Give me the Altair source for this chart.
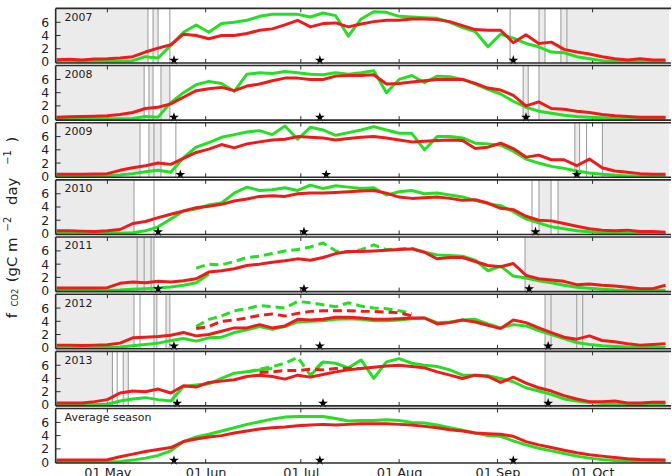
import altair as alt
import pandas as pd

N = None
# day of year of each sample
DOY = [105,109,113,117,121,125,129,133,137,141,145,149,153,157,161,165,169,173,177,181,
       185,189,193,197,201,205,209,213,217,221,225,229,233,237,241,245,249,253,257,261,
       265,269,273,277,281,285,289,293,297]

PANELS = ["2007", "2008", "2009", "2010", "2011", "2012", "2013", "Average season"]

green_2007 = [0.1,0.1,0.05,0.1,0.1,0.1,0.2,0.8,0.6,2.5, 4.5,5.6,4.5,5.8,6.0,6.3,6.9,7.2,7.2,7.2,
              6.8,7.4,7.0,3.9,6.5,7.6,7.5,6.9,6.8,6.7, 6.6,6.0,5.2,4.6,2.3,4.2,3.6,2.8,2.3,1.5,
              1.4,0.8,0.5,0.2,0.1,0.05,0.05,0.05,0.05]
red_2007 = [0.35,0.4,0.3,0.45,0.5,0.6,0.8,1.5,2.1,2.6, 4.2,4.0,3.5,4.0,4.0,4.3,4.8,5.0,5.6,6.3,
            5.3,5.8,5.9,5.3,5.75,6.1,6.3,6.3,6.5,6.5, 6.4,6.1,5.5,4.9,4.8,4.8,2.9,4.1,2.8,3.0,
            1.9,1.5,1.2,0.8,0.5,0.3,0.5,0.3,0.3]
green_2008 = [0.05,0.05,0.05,0.05,0.05,0.05,0.1,0.4,0.3,2.5, 4.0,5.2,5.7,5.4,4.2,6.8,7.0,6.9,7.2,7.0,
              6.8,6.7,7.0,6.8,7.0,7.3,4.0,6.0,6.6,5.5, 6.5,6.4,6.0,5.3,4.5,3.8,2.7,1.8,1.2,0.9,
              0.6,0.4,0.3,0.2,0.1,0.05,0.05,0.05,0.05]
red_2008 = [0.3,0.35,0.4,0.45,0.5,0.7,1.0,1.6,1.8,2.3, 3.3,4.3,4.6,4.8,4.3,5.0,5.3,5.8,6.2,6.2,
            6.0,6.0,6.5,6.6,6.6,6.7,5.3,5.4,5.6,5.8, 6.0,6.0,6.0,5.4,4.7,4.4,3.6,2.0,2.6,1.6,
            1.5,1.2,1.0,0.7,0.5,0.4,0.3,0.3,0.3]
green_2009 = [0.05,0.05,0.05,0.05,0.1,0.2,0.4,0.7,0.9,0.6, 2.8,4.4,5.1,5.9,6.3,6.7,6.9,6.3,7.6,5.6,
              7.4,7.0,6.2,6.6,7.0,7.5,7.0,6.5,6.5,4.0, 6.0,6.0,5.8,5.0,4.9,4.7,3.8,2.6,2.0,1.5,
              1.2,0.8,0.5,0.3,0.15,0.05,0.05,0.05,0.05]
red_2009 = [0.3,0.3,0.3,0.35,0.4,0.9,1.3,1.6,2.0,1.8, 2.7,3.6,4.1,4.8,4.3,4.9,5.2,5.5,5.6,6.0,
            5.9,5.8,5.5,5.7,5.9,6.0,5.8,5.5,5.2,5.3, 5.4,5.5,5.4,4.2,4.4,5.0,4.2,2.9,3.2,2.5,
            2.5,1.6,2.6,1.3,0.8,0.6,0.4,0.3,0.3]
green_2010 = [0.05,0.05,0.05,0.05,0.05,0.05,0.1,0.4,1.0,2.2, 3.4,3.7,4.3,4.6,6.1,7.0,6.5,6.6,6.9,6.5,
              7.3,6.8,7.2,7.0,6.8,6.9,5.8,6.3,6.5,6.0, 6.1,5.8,5.5,5.0,4.5,4.2,3.3,2.2,1.6,1.0,
              0.7,0.4,0.25,0.1,0.05,0.05,0.05,0.05,0.05]
red_2010 = [0.4,0.4,0.35,0.3,0.4,0.6,1.5,1.8,2.4,2.9, 3.4,3.9,4.1,4.4,4.9,5.2,5.6,5.7,5.6,6.0,
            6.1,6.1,6.2,6.3,6.4,6.5,6.1,5.5,5.3,5.4, 5.5,5.3,5.0,5.1,4.6,3.8,3.6,2.6,2.0,1.9,
            1.5,1.1,0.7,0.5,0.4,0.5,0.3,0.3,0.2]
green_2011 = [0.05,0.05,0.05,0.05,0.05,0.1,0.2,0.3,0.4,0.55, 0.8,1.2,2.5,N,N,N,N,N,N,N,
              N,N,N,N,N,N,N,N,6.4,5.8, 5.4,5.3,5.2,4.6,3.0,3.7,2.2,1.9,1.5,1.2,
              0.8,0.5,0.35,0.2,0.1,0.05,0.05,0.05,0.05]
green_dash_2011 = [N,N,N,N,N,N,N,N,N,N, N,3.4,4.0,3.9,4.4,5.0,5.2,5.6,6.0,6.2,
                   6.6,7.2,6.0,5.8,6.2,6.9,6.2,6.3,6.4,N, N,N,N,N,N,N,N,N,N,N,
                   N,N,N,N,N,N,N,N,N]
red_2011 = [0.4,0.4,0.4,0.4,0.45,1.1,1.3,1.2,1.4,1.3, 1.5,1.8,2.8,3.0,3.3,3.8,4.0,4.3,4.5,4.8,
            4.6,5.0,5.6,5.9,5.9,6.0,6.1,6.2,6.3,5.8, 4.8,5.0,5.0,4.4,3.8,3.6,4.1,2.3,1.8,1.6,
            1.4,0.9,1.0,0.8,0.7,0.5,0.3,0.3,0.8]
green_2012 = [0.05,0.05,0.05,0.05,0.05,0.1,0.3,0.5,0.7,1.1, 1.4,1.0,1.5,1.6,2.3,2.7,3.2,2.8,3.2,3.9,
              4.0,4.1,4.3,4.4,4.3,4.1,4.1,4.2,4.4,4.5, 3.8,3.9,4.2,4.3,3.6,3.0,3.5,3.3,2.6,2.0,
              1.4,0.8,0.5,0.3,0.2,0.1,0.05,0.05,0.05]
green_dash_2012 = [N,N,N,N,N,N,N,N,N,N, N,3.2,4.3,4.8,5.6,5.9,6.4,6.2,6.0,7.0,
                   6.8,6.5,6.2,6.8,6.3,6.0,5.9,5.6,5.2,N, N,N,N,N,N,N,N,N,N,N,
                   N,N,N,N,N,N,N,N,N]
red_dash_2012 = [N,N,N,N,N,N,N,N,N,N, N,2.9,3.2,4.0,4.2,4.5,4.9,5.1,4.8,5.2,
                 5.5,5.6,5.6,5.6,5.5,5.5,5.4,5.3,4.8,N, N,N,N,N,N,N,N,N,N,N,
                 N,N,N,N,N,N,N,N,N]
red_2012 = [0.4,0.4,0.35,0.4,0.45,0.7,1.5,1.6,1.7,1.9, 2.3,1.8,2.0,2.5,3.0,3.0,3.5,3.0,3.3,4.3,
            4.2,4.3,4.6,4.6,4.5,4.3,4.3,4.4,4.5,4.5, 3.6,3.8,4.2,3.9,3.4,2.9,4.2,3.8,3.0,2.3,
            1.6,1.3,1.8,1.1,0.9,0.6,0.4,0.5,0.6]
green_2013 = [0.05,0.05,0.05,0.05,0.1,0.6,0.9,1.1,0.8,0.6, 2.8,3.0,3.2,4.0,4.8,5.0,5.3,5.5,N,N,
              4.4,6.5,6.3,5.6,6.8,4.0,6.5,7.0,6.3,6.0, 5.8,5.3,4.5,4.5,4.4,4.0,3.5,2.6,2.1,1.6,
              0.9,0.6,0.35,0.2,0.1,0.05,0.05,0.05,0.05]
green_dash_2013 = [N,N,N,N,N,N,N,N,N,N, N,N,N,N,N,5.0,5.4,5.8,6.3,7.2,
                   4.5,6.6,N,N,N,N,N,N,N,N, N,N,N,N,N,N,N,N,N,N,
                   N,N,N,N,N,N,N,N,N]
red_dash_2013 = [N,N,N,N,N,N,N,N,N,N, N,N,N,N,N,N,4.9,5.0,5.2,5.2,
                 5.4,5.3,5.5,5.5,5.5,N,N,N,N,N, N,N,N,N,N,N,N,N,N,N,
                 N,N,N,N,N,N,N,N,N]
red_2013 = [0.3,0.3,0.3,0.5,0.8,1.8,2.1,2.0,2.4,1.8, 2.9,2.7,3.4,3.6,3.8,4.3,4.5,4.3,3.9,4.5,
            4.2,4.6,5.0,5.3,5.5,5.7,5.9,6.0,5.8,5.6, 5.0,4.5,4.0,4.5,4.3,3.4,4.2,3.3,2.6,2.1,
            1.4,0.9,0.5,0.5,0.6,0.3,0.3,0.4,0.4]
green_avg = [0.05,0.05,0.05,0.05,0.05,0.1,0.3,0.6,1.0,1.7, 3.1,3.8,4.2,4.7,5.2,5.7,6.1,6.5,6.8,6.9,
             6.9,6.9,6.6,6.2,6.3,6.3,6.4,6.3,6.0,5.9, 5.6,5.2,4.8,4.4,4.0,3.9,3.2,2.6,2.1,1.7,
             1.3,0.9,0.6,0.4,0.25,0.15,0.05,0.05,0.05]
red_avg = [0.3,0.3,0.3,0.3,0.35,0.8,1.2,1.6,1.9,2.2, 3.1,3.5,3.8,4.0,4.4,4.7,5.0,5.2,5.3,5.5,
           5.6,5.7,5.6,5.7,5.8,5.8,5.8,5.7,5.6,5.4, 5.2,4.9,4.7,4.4,4.3,4.2,3.9,3.1,2.6,2.2,
           1.8,1.4,1.1,0.9,0.7,0.5,0.4,0.35,0.3]

GREEN = {"2007": green_2007, "2008": green_2008, "2009": green_2009, "2010": green_2010,
         "2011": green_2011, "2012": green_2012, "2013": green_2013, "Average season": green_avg}
RED = {"2007": red_2007, "2008": red_2008, "2009": red_2009, "2010": red_2010,
       "2011": red_2011, "2012": red_2012, "2013": red_2013, "Average season": red_avg}
GREEN_DASH = {"2011": green_dash_2011, "2012": green_dash_2012, "2013": green_dash_2013}
RED_DASH = {"2012": red_dash_2012, "2013": red_dash_2013}

# markers: start of season, peak, end of season (day of year)
STARS = {"2007": [142, 188, 249], "2008": [142, 188, 253], "2009": [144, 190, 269],
         "2010": [137, 183, 256], "2011": [137, 183, 254], "2012": [142, 188, 260],
         "2013": [143, 189, 260], "Average season": [142, 188, 249]}

X_MIN, X_MAX = 104.7, 298.1
# shaded periods (day of year)
SHADE = {
    "2007": [(X_MIN, 133.8), (135.4, 137.0), (257.1, 259.0), (264.0, X_MAX)],
    "2008": [(X_MIN, 132.6), (134.1, 135.4), (137.9, 140.7), (252.1, 253.7), (257.1, X_MAX)],
    "2009": [(X_MIN, 131.3), (134.1, 137.9), (268.4, 269.9), (277.1, X_MAX)],
    "2010": [(X_MIN, 129.4), (257.1, 260.9), (263.1, X_MAX)],
    "2011": [(X_MIN, 135.7), (252.7, X_MAX)],
    "2012": [(X_MIN, 129.4), (135.7, 136.6), (139.5, 140.7), (259.0, X_MAX)],
    "2013": [(X_MIN, 122.6), (126.0, 127.6), (259.0, X_MAX)],
}
VLINES = {
    "2007": [140.7, 248.0, 265.9],
    "2009": [135.7, 142.6, 272.1],
    "2010": [135.7, 254.9],
    "2011": [130.4, 132.6, 134.8],
    "2012": [131.3, 260.9, 269.0, 270.9],
    "2013": [124.1, 135.7, 142.0],
}

TICK_DOY = [121, 152, 182, 213, 244, 274]
TICK_LABELS = ["01 May", "01 Jun", "01 Jul", "01 Aug", "01 Sep", "01 Oct"]
Y_TICKS = [0, 2, 4, 6]

W, H = 617, 54.9
GREEN_C, RED_C = "#22e022", "#f01a1a"
FRAME_C = "#2b2b2b"
FONT = "DejaVu Sans"
LW = 3.0
STAR = ("M0,-1L0.2245,-0.309L0.951,-0.309L0.363,0.118L0.588,0.809L0,0.382"
        "L-0.588,0.809L-0.363,0.118L-0.951,-0.309L-0.2245,-0.309Z")

XS = alt.Scale(domain=[X_MIN, X_MAX], nice=False, zero=False)
YS = alt.Scale(domain=[-0.15, 8.1], nice=False, zero=False)

expr = "''"
for d, lab in reversed(list(zip(TICK_DOY, TICK_LABELS))):
    expr = f"datum.value == {d} ? '{lab}' : ({expr})"

x_axis_bottom = alt.Axis(values=TICK_DOY, labelExpr=expr, ticks=False, domain=False, grid=False,
                         labelFontSize=13, labelPadding=4, labelColor="#222", labelFont=FONT)
y_axis = alt.Axis(values=Y_TICKS, ticks=False, domain=False, grid=False, labelFontSize=12.5,
                  labelPadding=7, labelColor="#222", labelFont=FONT)


def segs(vals):
    rows, seg = [], 0
    for d, v in zip(DOY, vals):
        if v is None:
            seg += 1
            continue
        rows.append({"doy": d, "v": v, "seg": seg})
    return pd.DataFrame(rows)


ONE = pd.DataFrame({"k": [0]})

# y-axis title pieces (text, x, y relative to panel 4, font size)
YTITLE = [("f", -44, 136.5, 15), ("CO2", -40.5, 118.5, 8.5), ("(gC m", -44, 80.5, 15),
          ("\u22122", -48, 44.5, 10), ("day", -44, 11.5, 15), ("\u22121", -48, -22.5, 10),
          (")", -44, -40.5, 15)]


def panel(idx, name, last):
    X = alt.X("doy:Q", scale=XS, axis=x_axis_bottom if last else None, title=None)
    Y = alt.Y("v:Q", scale=YS, axis=y_axis, title=None)
    layers = []
    spans = SHADE.get(name, [])
    if spans:
        sdf = pd.DataFrame([{"doy": a, "doy2": b} for a, b in spans])
        layers.append(alt.Chart(sdf).mark_rect(color="#ebebeb").encode(
            x=X, x2="doy2:Q", y=alt.value(0), y2=alt.value(H)))
        edges = [a for a, b in spans if a > X_MIN] + [b for a, b in spans if b < X_MAX]
        edges += VLINES.get(name, [])
        edf = pd.DataFrame({"doy": edges})
        layers.append(alt.Chart(edf).mark_rule(color="#a0a0a0", strokeWidth=1.1).encode(
            x=X, y=alt.value(0), y2=alt.value(H)))
    tdf = pd.DataFrame({"doy": TICK_DOY})
    layers.append(alt.Chart(tdf).mark_rule(color=FRAME_C, strokeWidth=1).encode(
        x=X, y=alt.value(0), y2=alt.value(4)))
    layers.append(alt.Chart(tdf).mark_rule(color=FRAME_C, strokeWidth=1).encode(
        x=X, y=alt.value(H - 4), y2=alt.value(H)))
    ydf = pd.DataFrame({"v": Y_TICKS})
    layers.append(alt.Chart(ydf).mark_rule(color=FRAME_C, strokeWidth=1).encode(
        y=Y, x=alt.value(0), x2=alt.value(5)))
    layers.append(alt.Chart(segs(GREEN[name])).mark_line(
        color=GREEN_C, strokeWidth=LW, clip=True, strokeJoin="round").encode(x=X, y=Y, detail="seg:N"))
    if name in GREEN_DASH:
        layers.append(alt.Chart(segs(GREEN_DASH[name])).mark_line(
            color=GREEN_C, strokeWidth=LW, clip=True, strokeDash=[9, 5]).encode(x=X, y=Y, detail="seg:N"))
    if name in RED_DASH:
        layers.append(alt.Chart(segs(RED_DASH[name])).mark_line(
            color=RED_C, strokeWidth=LW, clip=True, strokeDash=[9, 5]).encode(x=X, y=Y, detail="seg:N"))
    layers.append(alt.Chart(segs(RED[name])).mark_line(
        color=RED_C, strokeWidth=LW, clip=True, strokeJoin="round").encode(x=X, y=Y, detail="seg:N"))
    sdf2 = pd.DataFrame({"doy": STARS[name], "v": [0.25] * len(STARS[name])})
    layers.append(alt.Chart(sdf2).mark_point(shape=STAR, filled=True, color="black", size=110,
                                             opacity=1).encode(x=X, y=Y))
    for yy in (0, H):
        layers.append(alt.Chart(ONE).mark_rule(color=FRAME_C, strokeWidth=1.6).encode(
            x=alt.value(0), x2=alt.value(W + 2), y=alt.value(yy)))
    layers.append(alt.Chart(ONE).mark_rule(color=FRAME_C, strokeWidth=1.6).encode(
        x=alt.value(0), y=alt.value(0), y2=alt.value(H)))
    layers.append(alt.Chart(ONE).mark_text(text=name, align="left", baseline="middle", fontSize=11,
                                           font=FONT, color="#222").encode(
        x=alt.value(9), y=alt.value(9.5)))
    if idx == 3:
        for t, px, py, fs in YTITLE:
            layers.append(alt.Chart(ONE).mark_text(text=t, angle=270, align="center",
                                                   baseline="middle", fontSize=fs, font=FONT,
                                                   color="#222").encode(
                x=alt.value(px), y=alt.value(py)))
    return alt.layer(*layers).properties(width=W, height=H)


panels = [panel(i, n, i == len(PANELS) - 1) for i, n in enumerate(PANELS)]

chart = alt.vconcat(*panels, spacing=2.5, bounds="flush").properties(
    padding={"left": 3, "top": 6, "right": 0, "bottom": 0}
).configure(background="white").configure_view(stroke=None)

chart.save("out.html", embed_options={"renderer": "svg", "actions": False})
